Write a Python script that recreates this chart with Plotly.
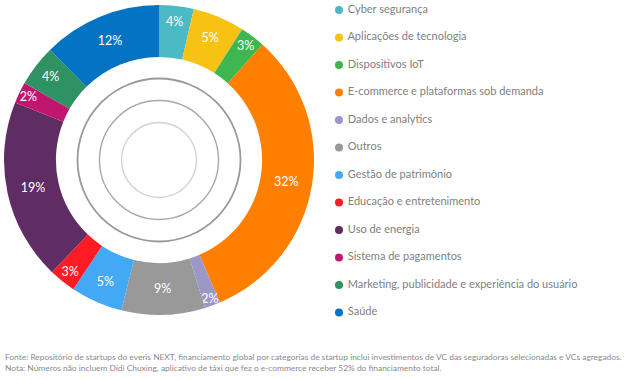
import plotly.graph_objects as go

categories = ["Cyber segurança", "Aplicações de tecnologia", "Dispositivos IoT",
              "E-commerce e plataformas sob demanda", "Dados e analytics", "Outros",
              "Gestão de patrimônio", "Educação e entretenimento", "Uso de energia",
              "Sistema de pagamentos", "Marketing, publicidade e experiência do usuário",
              "Saúde"]
# slice shares (angles)
values = [3.6, 5.4, 2.6, 31.9, 1.6, 8.7, 5.4, 2.8, 18.9, 2.2, 4.3, 12.4]
# percentages as printed on the slices
pct_labels = [4, 5, 3, 32, 2, 9, 5, 3, 19, 2, 4, 12]
colors = ["#4bbac4", "#f6c315", "#3eb84e", "#ff7f00", "#9b97c9", "#999999",
          "#43a9f4", "#ff1b24", "#5f2d63", "#c1166f", "#2f9262", "#0473c2"]
footnote = ("Fonte: Repositório de startups do everis NEXT, financiamento global por categorias de startup inclui investimentos de VC das seguradoras selecionadas e VCs agregados.<br>"
            "Nota: Números não incluem Didi Chuxing, aplicativo de táxi que fez o e-commerce receber 52% do financiamento total.")

W, H = 627, 380
cx, cy, R = 159, 160, 155

fig = go.Figure()
fig.add_trace(go.Pie(
    values=values, labels=categories, text=[f"{v}%" for v in pct_labels],
    textinfo="text", textposition="inside", insidetextorientation="horizontal",
    sort=False, direction="clockwise", rotation=0, hole=0.665,
    marker=dict(colors=colors, line=dict(width=0)),
    textfont=dict(color="white", size=12.5, family="Lato"),
    domain=dict(x=[(cx - R) / W, (cx + R) / W], y=[1 - (cy + R) / H, 1 - (cy - R) / H]),
    showlegend=False, hoverinfo="label+percent"
))

# custom legend with round markers
leg_x = 339
leg_y = [10 + 27.5 * i for i in range(len(categories))]
fig.add_trace(go.Scatter(
    x=[leg_x] * len(categories), y=leg_y, mode="markers+text",
    text=[" " + c for c in categories], textposition="middle right",
    marker=dict(color=colors, size=8),
    textfont=dict(color="#808080", size=11, family="Lato"),
    showlegend=False, hoverinfo="skip", cliponaxis=False
))

shapes = []
for r, col, w in [(81.5, "#999999", 1.8), (59.5, "#a8a8a8", 1.4), (37.5, "#d3d3d3", 1.4)]:
    shapes.append(dict(type="circle", xref="paper", yref="paper",
                       x0=(cx - r) / W, x1=(cx + r) / W,
                       y0=1 - (cy + r) / H, y1=1 - (cy - r) / H,
                       line=dict(color=col, width=w)))

fig.update_layout(
    width=W, height=H, margin=dict(l=0, r=0, t=0, b=0),
    paper_bgcolor="white", plot_bgcolor="white",
    uniformtext=dict(minsize=12.5, mode="show"),
    xaxis=dict(range=[0, W], visible=False, domain=[0, 1], fixedrange=True),
    yaxis=dict(range=[H, 0], visible=False, domain=[0, 1], fixedrange=True),
    shapes=shapes,
    annotations=[dict(text=footnote, xref="paper", yref="paper",
                      x=3 / W, y=1 - 350 / H, xanchor="left", yanchor="top",
                      align="left", showarrow=False,
                      font=dict(color="#8a8a8a", size=8.4, family="Lato"))],
)

fig.write_html("out.html", config={"displayModeBar": False},
               post_script="document.body.style.margin='0';")
